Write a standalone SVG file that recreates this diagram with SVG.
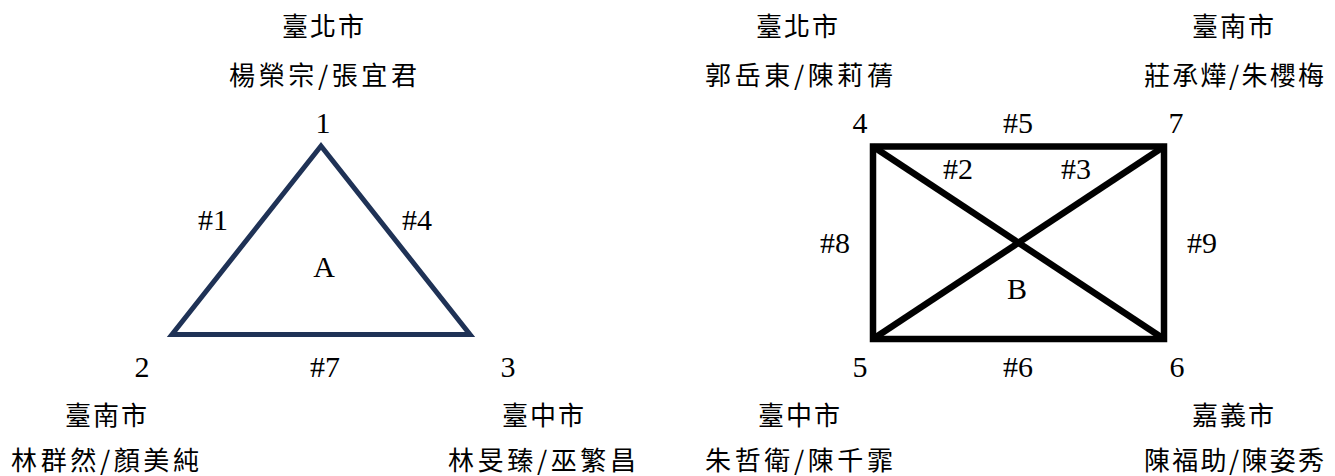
<svg xmlns="http://www.w3.org/2000/svg" width="1335" height="476" viewBox="0 0 1335 476">
<style>
.cjk{font-family:"Noto Sans CJK TC","Noto Sans CJK SC",sans-serif;font-size:26px;fill:#000;text-anchor:middle}
.num{font-family:"Liberation Serif",serif;font-size:30px;fill:#000;text-anchor:middle}
.tri{fill:none;stroke:#1f3256;stroke-width:5;stroke-linejoin:miter}
.rect{fill:none;stroke:#000;stroke-width:6.5;stroke-linejoin:miter}
</style>
<rect width="1335" height="476" fill="#fff"/>
<g id="connectors">
  <polygon class="tri" points="321,146 172,334.5 470,334.5"/>
  <rect class="rect" x="873" y="146.5" width="291" height="192.5"/>
  <line class="rect" x1="873" y1="146.5" x2="1164" y2="339"/>
  <line class="rect" x1="873" y1="339" x2="1164" y2="146.5"/>
  <text class="num" x="213" y="230">#1</text>
  <text class="num" x="417" y="230">#4</text>
  <text class="num" x="325" y="377">#7</text>
  <text class="num" x="1018" y="133">#5</text>
  <text class="num" x="958" y="179">#2</text>
  <text class="num" x="1076" y="179">#3</text>
  <text class="num" x="835" y="253">#8</text>
  <text class="num" x="1202" y="253">#9</text>
  <text class="num" x="1018" y="377">#6</text>
</g>
<g id="region-A"><text class="num" x="324" y="277">A</text></g>
<g id="region-B"><text class="num" x="1017" y="299">B</text></g>
<g id="node-1">
  <text class="num" x="323" y="133">1</text>
  <text class="cjk" x="323" y="36" textLength="82" lengthAdjust="spacing">臺北市</text>
  <text class="cjk" x="323" y="85" textLength="188" lengthAdjust="spacing">楊榮宗/張宜君</text>
</g>
<g id="node-2">
  <text class="num" x="142" y="377">2</text>
  <text class="cjk" x="106" y="425" textLength="82" lengthAdjust="spacing">臺南市</text>
  <text class="cjk" x="105" y="470" textLength="188" lengthAdjust="spacing">林群然/顏美純</text>
</g>
<g id="node-3">
  <text class="num" x="508" y="377">3</text>
  <text class="cjk" x="543" y="425" textLength="82" lengthAdjust="spacing">臺中市</text>
  <text class="cjk" x="542" y="470" textLength="188" lengthAdjust="spacing">林旻臻/巫繁昌</text>
</g>
<g id="node-4">
  <text class="num" x="860" y="133">4</text>
  <text class="cjk" x="797" y="36" textLength="82" lengthAdjust="spacing">臺北市</text>
  <text class="cjk" x="799" y="85" textLength="188" lengthAdjust="spacing">郭岳東/陳莉蒨</text>
</g>
<g id="node-7">
  <text class="num" x="1176" y="133">7</text>
  <text class="cjk" x="1233" y="36" textLength="82" lengthAdjust="spacing">臺南市</text>
  <text class="cjk" x="1234" y="85" textLength="180" lengthAdjust="spacing">莊承燁/朱櫻梅</text>
</g>
<g id="node-5">
  <text class="num" x="860" y="377">5</text>
  <text class="cjk" x="799" y="425" textLength="82" lengthAdjust="spacing">臺中市</text>
  <text class="cjk" x="799" y="470" textLength="188" lengthAdjust="spacing">朱哲衛/陳千霏</text>
</g>
<g id="node-6">
  <text class="num" x="1177" y="377">6</text>
  <text class="cjk" x="1233" y="425" textLength="82" lengthAdjust="spacing">嘉義市</text>
  <text class="cjk" x="1234" y="470" textLength="180" lengthAdjust="spacing">陳福助/陳姿秀</text>
</g>
</svg>
